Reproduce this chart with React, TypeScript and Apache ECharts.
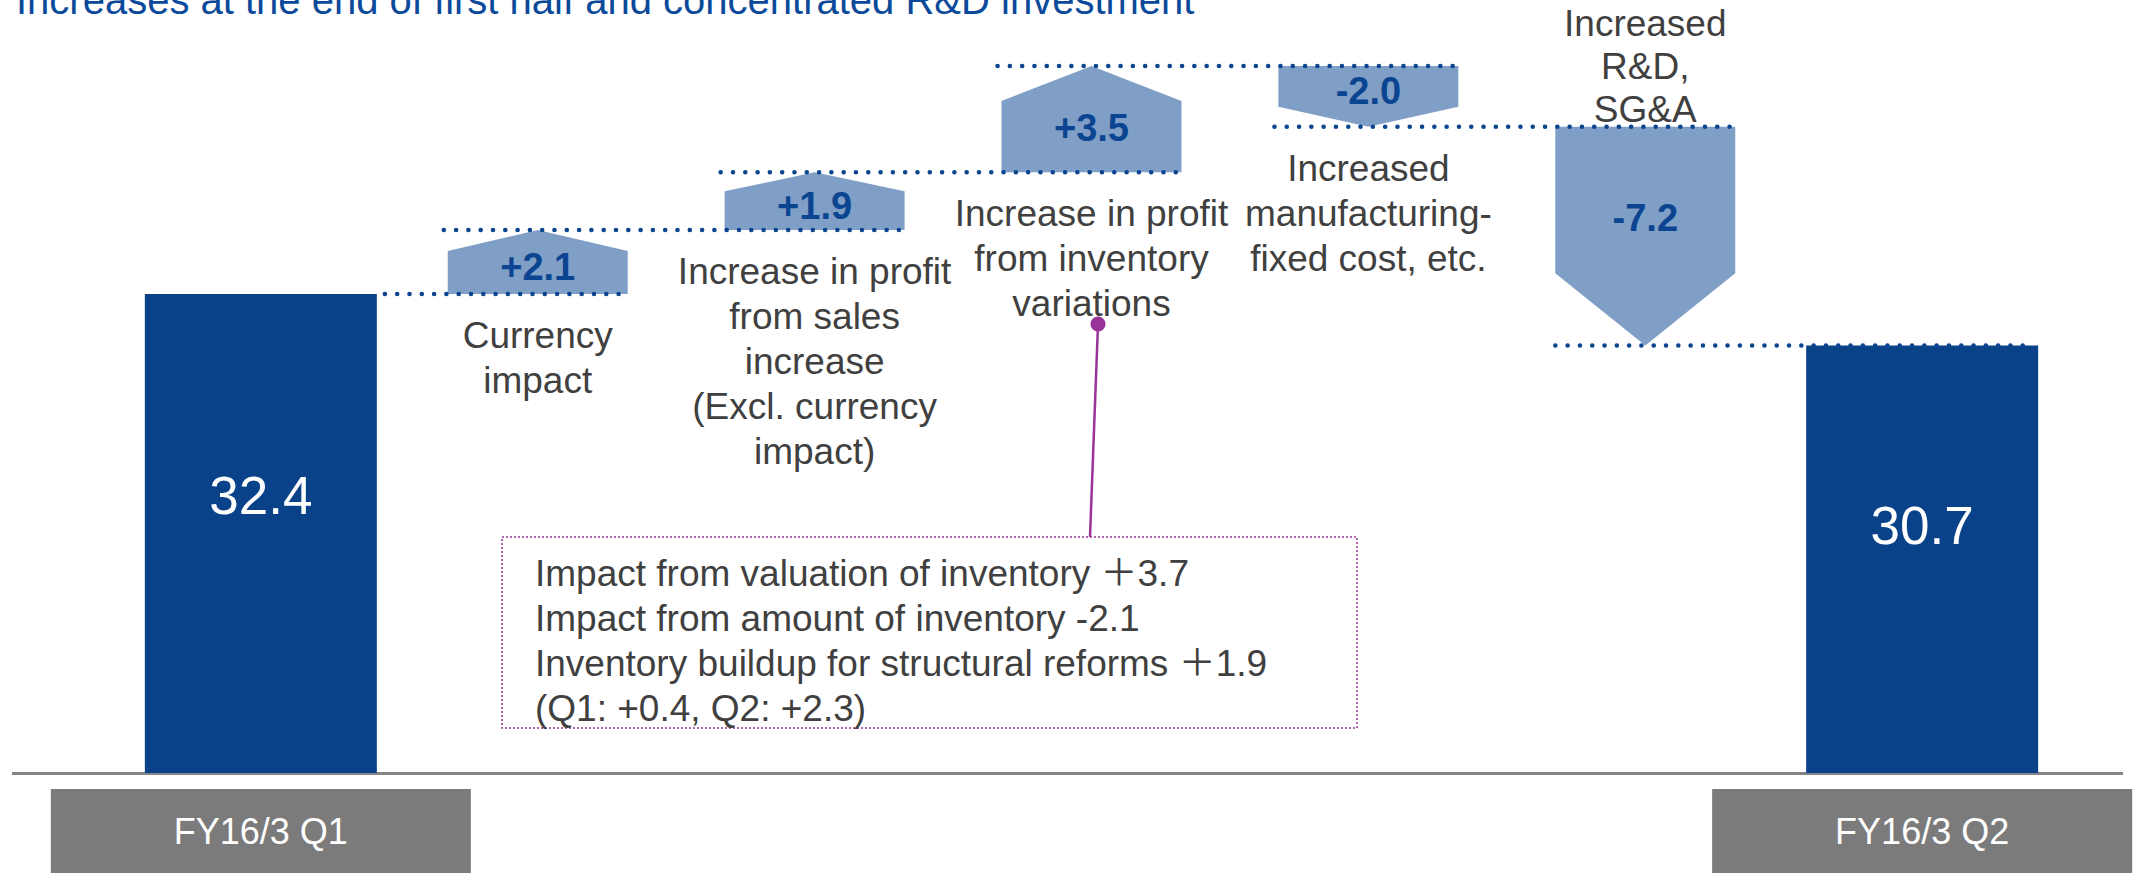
import React, { useEffect, useRef } from 'react';
import * as echarts from 'echarts';

// ---------------- data ----------------
const title = 'Increases at the end of first half and concentrated R&D investment';
const categories = ['FY16/3 Q1', 'Currency impact', 'Sales increase', 'Inventory variations', 'Manufacturing fixed cost', 'R&D, SG&A', 'FY16/3 Q2'];
const axisLabels = ['FY16/3 Q1', '', '', '', '', '', 'FY16/3 Q2'];
const startTotal = 32.4;
const endTotal = 30.7;
const deltas = [2.1, 1.9, 3.5, -2.0, -7.2];
const deltaLabels = [
  'Currency\nimpact',
  'Increase in profit\nfrom sales\nincrease\n(Excl. currency\nimpact)',
  'Increase in profit\nfrom inventory\nvariations',
  'Increased\nmanufacturing-\nfixed cost, etc.',
  'Increased\nR&D,\nSG&A',
];
const calloutLines = [
  'Impact from valuation of inventory ＋3.7',
  'Impact from amount of inventory -2.1',
  'Inventory buildup for structural reforms ＋1.9',
  '(Q1: +0.4, Q2: +2.3)',
];

// ---------------- styles ----------------
const FONT = "'Liberation Sans', Arial, 'Noto Sans CJK JP', sans-serif";
const DARK_BLUE = '#0A428A';
const LIGHT_BLUE = '#809FC6';
const LABEL_BLUE = '#0B4591';
const TEXT_GRAY = '#404040';
const PURPLE = '#993399';
const TOTAL_BAR_W = 232;
const SHAPE_RATIO = 0.65;
const HEAD_FRAC = 0.33;
const labelSides = ['below', 'below', 'below', 'below', 'above'];
const Y_MIN = 16.64;
const Y_MAX = 41.64;

export default function App() {
  const ref = useRef<HTMLDivElement>(null);

  useEffect(() => {
    if (!ref.current) return;
    const chart = echarts.init(ref.current, null, { renderer: 'svg' });

    const totalData: any[] = categories.map((_, i) =>
      i === 0 ? startTotal : i === categories.length - 1 ? endTotal : '-'
    );

    let level = startTotal;
    const rows = deltas.map((d, k) => {
      const s = level;
      level = Math.round((level + d) * 10) / 10;
      return [k + 1, s, level, d];
    });

    const dotted = {
      stroke: '#0A4590',
      lineWidth: 4.5,
      lineDash: [0.1, 12.2],
      lineCap: 'round',
    };

    const renderItem = (params: any, api: any) => {
      const k = params.dataIndex;
      const idx = api.value(0);
      const start = api.value(1);
      const end = api.value(2);
      const d = api.value(3);
      const band = api.size([1, 0])[0];
      const w = band * SHAPE_RATIO;
      const [cx, yS] = api.coord([idx, start]);
      const yE = api.coord([idx, end])[1];
      const x0 = cx - w / 2;
      const x1 = cx + w / 2;
      const yShoulder = yE + (yS - yE) * HEAD_FRAC;
      const children: any[] = [];

      children.push({
        type: 'polygon',
        shape: { points: [[x0, yS], [x1, yS], [x1, yShoulder], [cx, yE], [x0, yShoulder]] },
        style: { fill: LIGHT_BLUE },
      });

      // connector at start level
      const prevCx = api.coord([idx - 1, start])[0];
      const sx = idx - 1 === 0 ? prevCx + TOTAL_BAR_W / 2 + 8 : prevCx - w / 2 - 4;
      children.push({
        type: 'line',
        shape: { x1: sx, y1: yS, x2: x1, y2: yS },
        style: dotted,
      });
      if (k === deltas.length - 1) {
        const nextCx = api.coord([idx + 1, end])[0];
        children.push({
          type: 'line',
          shape: { x1: x0, y1: yE, x2: nextCx + TOTAL_BAR_W / 2 - 12, y2: yE },
          style: dotted,
        });
      }

      const labelY = ((yS + yE) / 2 + (yS + yShoulder) / 2) / 2;
      children.push({
        type: 'text',
        x: cx,
        y: labelY,
        style: {
          text: (d > 0 ? '+' : '') + d.toFixed(1),
          fill: LABEL_BLUE,
          fontSize: 38,
          fontWeight: 'bold',
          fontFamily: FONT,
          align: 'center',
          verticalAlign: 'middle',
        },
      });

      const side = labelSides[k];
      const lower = Math.max(yS, yE);
      const upper = Math.min(yS, yE);
      children.push({
        type: 'text',
        x: cx,
        y: side === 'below' ? lower + 19 : upper + 4,
        style: {
          text: deltaLabels[k],
          fill: TEXT_GRAY,
          fontSize: 37,
          lineHeight: side === 'below' ? 45 : 43,
          fontFamily: FONT,
          align: 'center',
          verticalAlign: side === 'below' ? 'top' : 'bottom',
        },
      });

      return { type: 'group', children };
    };

    chart.setOption({
      animation: false,
      backgroundColor: '#ffffff',
      grid: { left: 122.4, right: 57.2, top: 13, bottom: 102, containLabel: false },
      xAxis: {
        type: 'category',
        data: categories,
        boundaryGap: true,
        axisLine: { show: false },
        axisTick: { show: false },
        splitLine: { show: false },
        axisLabel: {
          interval: 0,
          margin: 38,
          formatter: (_: string, i: number) => (axisLabels[i] ? `{box|${axisLabels[i]}}` : ''),
          rich: {
            box: {
              backgroundColor: '#7B7B7B',
              color: '#ffffff',
              fontSize: 36,
              fontFamily: FONT,
              width: 420,
              align: 'center',
              lineHeight: 40,
              padding: [24, 0, 24, 0],
            },
          },
        },
      },
      yAxis: {
        type: 'value',
        min: Y_MIN,
        max: Y_MAX,
        show: false,
        splitLine: { show: false },
      },
      series: [
        {
          type: 'bar',
          data: totalData,
          barWidth: TOTAL_BAR_W,
          itemStyle: { color: DARK_BLUE },
          label: {
            show: true,
            position: ['50%', '42%'],
            align: 'center',
            verticalAlign: 'middle',
            color: '#ffffff',
            fontSize: 53,
            fontFamily: FONT,
            formatter: (p: any) => Number(p.value).toFixed(1),
          },
          z: 2,
        },
        {
          type: 'custom',
          data: rows,
          encode: { x: 0, y: [1, 2] },
          renderItem,
          clip: false,
          z: 3,
        },
      ],
      graphic: [
        {
          type: 'text',
          x: 16,
          y: 0,
          style: {
            text: title,
            fill: '#0B4A9A',
            fontSize: 40,
            fontFamily: FONT,
            verticalAlign: 'middle',
          },
        },
        {
          type: 'line',
          shape: { x1: 12, y1: 773.5, x2: 2123, y2: 773.5 },
          style: { stroke: '#858585', lineWidth: 3 },
        },
        {
          type: 'rect',
          shape: { x: 502, y: 537, width: 855, height: 191 },
          style: { fill: 'none', stroke: PURPLE, lineWidth: 1.5, lineDash: [2, 2] },
        },
        {
          type: 'line',
          shape: { x1: 1098, y1: 324, x2: 1090, y2: 537 },
          style: { stroke: PURPLE, lineWidth: 2.5 },
        },
        {
          type: 'circle',
          shape: { cx: 1098, cy: 324, r: 7.5 },
          style: { fill: PURPLE },
        },
        {
          type: 'text',
          x: 535,
          y: 551,
          style: {
            text: calloutLines.join('\n'),
            fill: TEXT_GRAY,
            fontSize: 37,
            lineHeight: 45,
            fontFamily: FONT,
            verticalAlign: 'top',
          },
        },
      ],
    });

    return () => chart.dispose();
  }, []);

  return (
    <div
      ref={ref}
      style={{ position: 'fixed', left: 0, top: 0, width: 2134, height: 875, background: '#fff' }}
    />
  );
}
